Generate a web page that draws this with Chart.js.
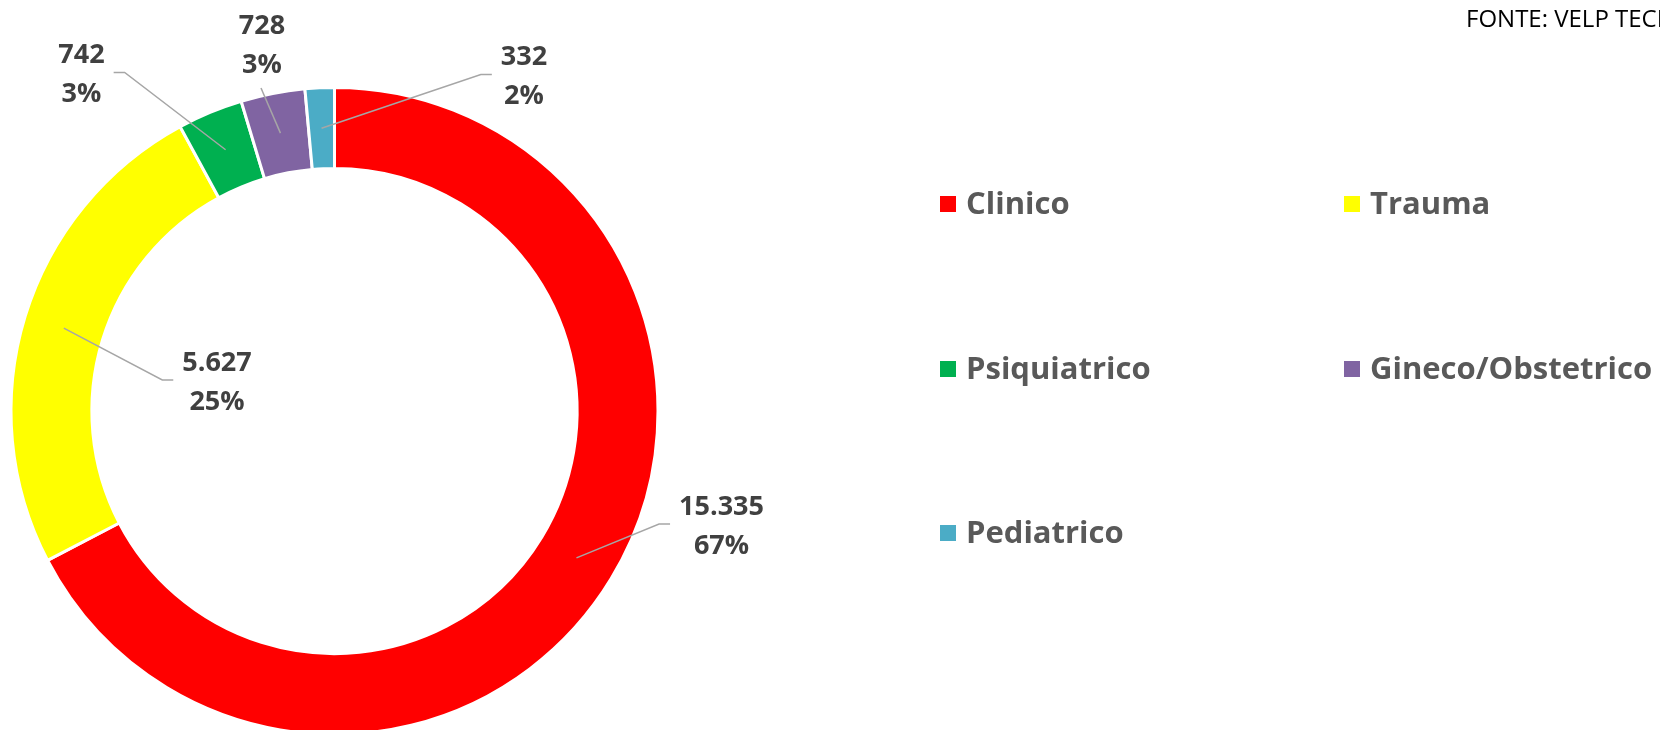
<!DOCTYPE html>
<html>
<head>
<meta charset="utf-8">
<script src="https://cdn.jsdelivr.net/npm/chart.js@4.4.1/dist/chart.umd.min.js"></script>
<style>
  html, body { margin: 0; padding: 0; background: #fff; overflow: hidden; }
  #wrap { width: 1660px; height: 730px; overflow: hidden; position: relative; }
</style>
</head>
<body>
<div id="wrap"><canvas id="chart" width="1660" height="822"></canvas></div>
<script>
let categories = ["Clinico", "Trauma", "Psiquiatrico", "Gineco/Obstetrico", "Pediatrico"]
let values = [15335, 5627, 742, 728, 332]
let valueLabels = ["15.335", "5.627", "742", "728", "332"]
let percentLabels = ["67%", "25%", "3%", "3%", "2%"]
let colors = ["#FF0000", "#FFFF00", "#00B050", "#8064A2", "#4BACC6"]
let sourceText = "FONTE: VELP TECNOLOGIA"

// where each data label sits, relative to the ring center
let labelSpots = [
  { dx: 387, dy: 115.5, side: "left" },
  { dx: -117.5, dy: -28.5, side: "left" },
  { dx: -253, dy: -336, side: "right" },
  { dx: -72.5, dy: -365, side: "bottom" },
  { dx: 189.5, dy: -334, side: "left" }
]

let legendCols = [940, 1344]
let legendRows = [204, 369, 533]

let labelsPlugin = {
  id: "labelsPlugin",
  afterDraw(chart) {
    let ctx = chart.ctx
    let arcs = chart.getDatasetMeta(0).data
    ctx.save()

    arcs.forEach((arc, i) => {
      let spot = labelSpots[i]
      let cx = arc.x + spot.dx
      let cy = arc.y + spot.dy
      let p = arc.tooltipPosition()

      ctx.font = "bold 27px 'Open Sans'"
      let halfW = Math.max(ctx.measureText(valueLabels[i]).width, ctx.measureText(percentLabels[i]).width) / 2

      // leader line
      ctx.strokeStyle = "#A6A6A6"
      ctx.lineWidth = 1.5
      ctx.beginPath()
      ctx.moveTo(p.x, p.y)
      if (spot.side == "left") {
        let ex = cx - halfW - 9
        ctx.lineTo(ex - 11, cy - 2.5)
        ctx.lineTo(ex, cy - 2.5)
      } else if (spot.side == "right") {
        let ex = cx + halfW + 9
        ctx.lineTo(ex + 11, cy - 2.5)
        ctx.lineTo(ex, cy - 2.5)
      } else {
        ctx.lineTo(cx - 1, cy + 42)
      }
      ctx.stroke()

      ctx.fillStyle = "#404040"
      ctx.textAlign = "center"
      ctx.textBaseline = "middle"
      ctx.fillText(valueLabels[i], cx, cy - 19.5)
      ctx.fillText(percentLabels[i], cx, cy + 19.5)
    })

    // legend, two columns
    ctx.font = "bold 31px 'Open Sans'"
    ctx.textAlign = "left"
    ctx.textBaseline = "middle"
    categories.forEach((name, i) => {
      let x = legendCols[i % 2]
      let y = legendRows[Math.floor(i / 2)]
      ctx.fillStyle = colors[i]
      ctx.fillRect(x, y - 8, 16, 16)
      ctx.fillStyle = "#595959"
      ctx.fillText(name, x + 26, y + 1)
    })

    // source
    ctx.font = "24px 'Open Sans'"
    ctx.fillStyle = "#000000"
    ctx.textBaseline = "alphabetic"
    ctx.fillText(sourceText, 1466, 27)

    ctx.restore()
  }
}

let ctx = document.getElementById("chart").getContext("2d")
new Chart(ctx, {
  type: "doughnut",
  data: {
    labels: categories,
    datasets: [{
      data: values,
      backgroundColor: colors,
      borderColor: "#FFFFFF",
      borderWidth: 3,
      radius: 323.5,
      cutout: "75%"
    }]
  },
  options: {
    responsive: false,
    animation: false,
    events: [],
    layout: { padding: { left: 0, top: 0, bottom: 0, right: 991 } },
    plugins: {
      legend: { display: false },
      tooltip: { enabled: false }
    }
  },
  plugins: [labelsPlugin]
})
</script>
</body>
</html>
